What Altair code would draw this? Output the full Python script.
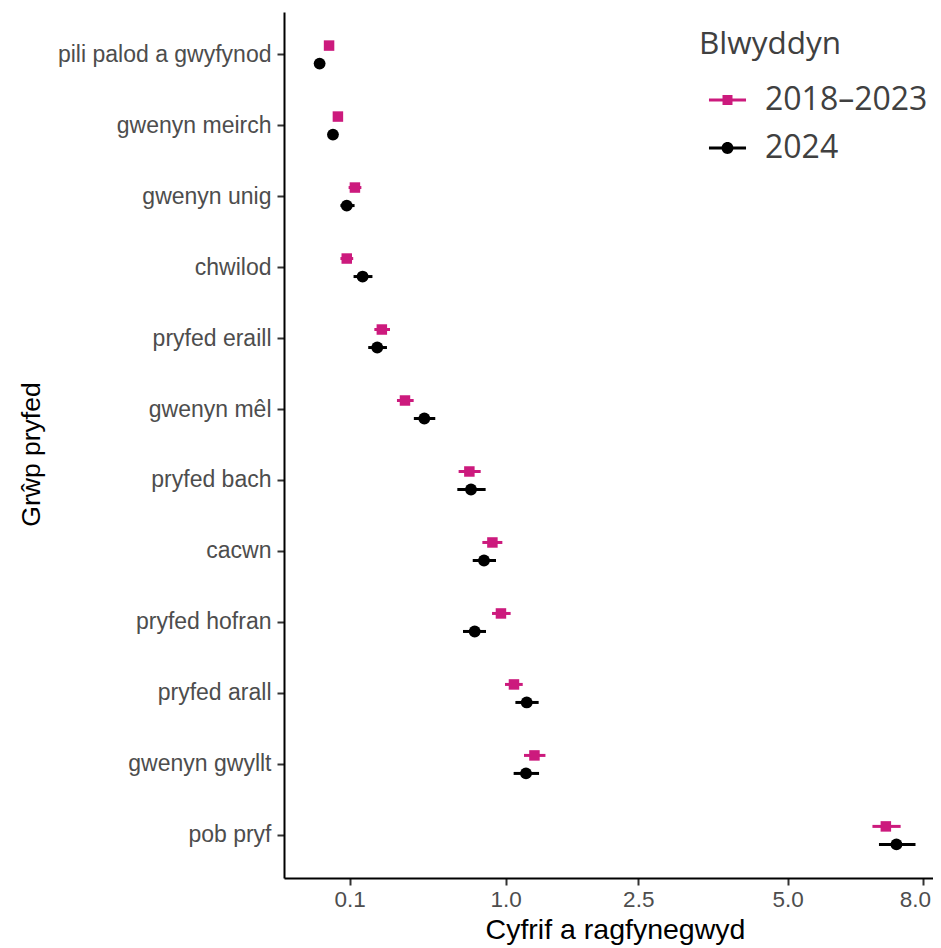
import altair as alt
import pandas as pd

categories = ["pili palod a gwyfynod", "gwenyn meirch", "gwenyn unig", "chwilod",
              "pryfed eraill", "gwenyn mêl", "pryfed bach", "cacwn",
              "pryfed hofran", "pryfed arall", "gwenyn gwyllt", "pob pryf"]
series = ["2018–2023", "2024"]

est_2018 = [0.051, 0.070, 0.115, 0.092, 0.209, 0.312, 0.707, 0.887, 0.959, 1.074, 1.268, 7.11]
lo_2018 = [0.047, 0.065, 0.097, 0.076, 0.180, 0.274, 0.630, 0.806, 0.884, 0.994, 1.167, 6.80]
hi_2018 = [0.055, 0.075, 0.135, 0.110, 0.243, 0.356, 0.793, 0.971, 1.044, 1.155, 1.379, 7.46]
est_2024 = [0.034, 0.059, 0.092, 0.139, 0.191, 0.414, 0.719, 0.819, 0.747, 1.193, 1.186, 7.36]
lo_2024 = [0.030, 0.054, 0.076, 0.111, 0.158, 0.357, 0.621, 0.732, 0.661, 1.087, 1.071, 6.95]
hi_2024 = [0.038, 0.064, 0.114, 0.173, 0.230, 0.478, 0.832, 0.917, 0.835, 1.310, 1.314, 7.82]

x_ticks = [0.1, 1.0, 2.5, 5.0, 8.0]

rows = []
for i, c in enumerate(categories):
    rows.append({"grwp": c, "Blwyddyn": series[0], "est": est_2018[i], "lo": lo_2018[i], "hi": hi_2018[i]})
    rows.append({"grwp": c, "Blwyddyn": series[1], "est": est_2024[i], "lo": lo_2024[i], "hi": hi_2024[i]})
df = pd.DataFrame(rows)

pink = "#CC1A7D"
colors = [pink, "#000000"]

LABEL_FONT = "Liberation Sans"
LEGEND_FONT = "Open Sans"

W, H = 649, 866

x_scale = alt.Scale(type="sqrt", domain=[0.0008, 8.255], nice=False, zero=False)
x_axis = alt.Axis(values=x_ticks, format=".1f", title="Cyfrif a ragfynegwyd", grid=False,
                  domainColor="black", domainWidth=2, tickColor="#333333", tickWidth=2, tickSize=7,
                  labelFont=LABEL_FONT, labelFontSize=22.5, labelColor="#4D4D4D", labelPadding=3,
                  labelOffset={"condition": {"test": "datum.value == 8", "value": -8}, "value": 0},
                  titleFont=LABEL_FONT, titleFontSize=28.5, titleFontWeight="normal", titleColor="black",
                  titleBaseline="alphabetic", titleY=60, titleX=(745 + 485) / 2 - 284)
y_axis = alt.Axis(title="Grŵp pryfed", grid=False,
                  domainColor="black", domainWidth=2, tickColor="#333333", tickWidth=2, tickSize=7,
                  labelFont=LABEL_FONT, labelFontSize=23, labelColor="#4D4D4D", labelPadding=6,
                  labelLimit=0,
                  titleFont=LABEL_FONT, titleFontSize=26.5, titleFontWeight="normal", titleColor="black",
                  titleBaseline="bottom", titleX=-239, titleY=H / 2 + 9)

y_enc = alt.Y("grwp:N", sort=categories, scale=alt.Scale(domain=categories, paddingInner=0, paddingOuter=0.1),
              axis=y_axis)
yoff = alt.YOffset("Blwyddyn:N", sort=series,
                   scale=alt.Scale(domain=series, paddingInner=0, paddingOuter=0.97))
color_nolegend = alt.Color("Blwyddyn:N", scale=alt.Scale(domain=series, range=colors), legend=None)

base = alt.Chart(df)

rules = base.mark_rule(strokeWidth=3).encode(
    x=alt.X("lo:Q", scale=x_scale, axis=x_axis),
    x2="hi:Q",
    y=y_enc,
    yOffset=yoff,
    color=color_nolegend,
)

squares = base.transform_filter(alt.datum.Blwyddyn == series[0]).mark_point(
    shape="square", filled=True, opacity=1, size=110
).encode(x=alt.X("est:Q", scale=x_scale), y=y_enc, yOffset=yoff, color=color_nolegend)

circles = base.transform_filter(alt.datum.Blwyddyn == series[1]).mark_point(
    shape="circle", filled=True, opacity=1, size=140
).encode(x=alt.X("est:Q", scale=x_scale), y=y_enc, yOffset=yoff, color=color_nolegend)

sq_path = "M-0.65,-0.05H0.65V0.05H-0.65Z M-0.175,-0.175H0.175V0.175H-0.175Z"
ci_path = ("M-0.65,-0.05H0.65V0.05H-0.65Z "
           "M0.21,0A0.21,0.21 0 1,1 -0.21,0A0.21,0.21 0 1,1 0.21,0Z")

legend = alt.Legend(title="Blwyddyn", orient="none", legendX=415, legendY=17,
                    titleFont=LEGEND_FONT, titleFontSize=31.5, titleFontWeight="normal", titleColor="#404040",
                    labelFont=LEGEND_FONT, labelFontSize=32, labelColor="#404040", labelLimit=0,
                    titleLimit=0,
                    symbolSize=3249, symbolOpacity=1, symbolStrokeWidth=0, labelOffset=9,
                    rowPadding=3, titlePadding=11, padding=0)

legend_layer = base.mark_point(filled=True, opacity=0, size=100).encode(
    x=alt.X("est:Q", scale=x_scale),
    y=y_enc,
    yOffset=yoff,
    color=alt.Color("Blwyddyn:N", scale=alt.Scale(domain=series, range=colors), legend=legend),
    shape=alt.Shape("Blwyddyn:N", scale=alt.Scale(domain=series, range=[sq_path, ci_path]), legend=legend),
)

chart = alt.layer(rules, squares, circles, legend_layer).resolve_scale(
    color="independent", shape="independent"
).properties(
    width=W, height=H,
    autosize=alt.AutoSizeParams(type="none"),
    padding={"left": 276, "top": 4, "right": 0, "bottom": 70},
).configure_view(stroke=None)

chart.save("out.html", embed_options={"renderer": "svg", "actions": False})
